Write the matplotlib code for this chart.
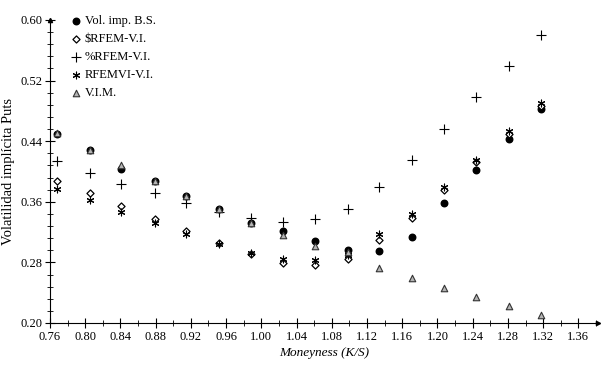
import numpy as np
import matplotlib
matplotlib.use("Agg")
import matplotlib.pyplot as plt
from matplotlib.ticker import FormatStrFormatter

# moneyness (K/S) of each strike column
moneyness = [0.768, 0.805, 0.841, 0.879, 0.914, 0.952, 0.988, 1.025,
             1.061, 1.098, 1.134, 1.171, 1.207, 1.244, 1.281, 1.318]

vol_bs = [0.450, 0.428, 0.403, 0.387, 0.367, 0.350, 0.332, 0.321,
          0.308, 0.297, 0.295, 0.313, 0.358, 0.402, 0.443, 0.483]
rfem_usd = [0.387, 0.371, 0.354, 0.337, 0.322, 0.305, 0.291, 0.279,
            0.277, 0.285, 0.309, 0.339, 0.375, 0.412, 0.450, 0.487]
rfem_pct = [0.414, 0.398, 0.384, 0.371, 0.358, 0.346, 0.338, 0.333,
            0.337, 0.351, 0.379, 0.415, 0.456, 0.498, 0.539, 0.580]
rfemvi = [0.377, 0.363, 0.347, 0.332, 0.318, 0.304, 0.292, 0.284,
          0.283, 0.290, 0.317, 0.344, 0.380, 0.415, 0.453, 0.491]
vim = [0.451, 0.428, 0.409, 0.388, 0.368, 0.350, 0.332, 0.316,
       0.301, 0.294, 0.272, 0.259, 0.246, 0.234, 0.222, 0.211]

labels = ["Vol. imp. B.S.", "$RFEM-V.I.", "%RFEM-V.I.", "RFEMVI-V.I.", "V.I.M."]

x_major = np.arange(0.76, 1.37, 0.04)
x_minor = np.arange(0.76, 1.381, 0.02)
y_major = np.arange(0.20, 0.61, 0.08)
y_minor = np.arange(0.20, 0.601, 0.016)

plt.rcParams["font.family"] = ["Liberation Serif", "DejaVu Serif"]

fig = plt.figure(figsize=(6.02, 3.68), dpi=100)
ax = fig.add_axes([0.083, 0.1223, 0.91, 0.8234])

ax.scatter(moneyness, vol_bs, marker="o", s=22, color="black", label=labels[0], zorder=3)
ax.scatter(moneyness, rfem_usd, marker="D", s=13, facecolor="white", edgecolor="black",
           linewidth=0.9, label=labels[1], zorder=3)
ax.scatter(moneyness, rfem_pct, marker="+", s=45, color="black", linewidth=0.8,
           label=labels[2], zorder=3)
ax.scatter(moneyness, rfemvi, marker=(6, 2, 0), s=24, color="black", linewidth=0.8,
           label=labels[3], zorder=4)
ax.scatter(moneyness, vim, marker="^", s=22, facecolor="#b4b4b4", edgecolor="#333333",
           linewidth=0.8, label=labels[4], zorder=4)

ax.set_xlim(0.76, 1.382)
ax.set_ylim(0.20, 0.60)
ax.set_xticks(x_major)
ax.set_xticks(x_minor, minor=True)
ax.set_yticks(y_major)
ax.set_yticks(y_minor, minor=True)
ax.xaxis.set_major_formatter(FormatStrFormatter("%.2f"))
ax.yaxis.set_major_formatter(FormatStrFormatter("%.2f"))

for side in ["top", "right"]:
    ax.spines[side].set_visible(False)
for side in ["left", "bottom"]:
    ax.spines[side].set_linewidth(0.8)

ax.tick_params(which="major", direction="inout", length=7, width=0.8, labelsize=9, pad=2)
ax.tick_params(which="minor", direction="inout", length=4, width=0.6)

# arrow heads at the axis ends
ax.plot(1, 0, marker=">", ms=3, color="black", transform=ax.transAxes, clip_on=False)
ax.plot(0, 1, marker="^", ms=3, color="black", transform=ax.transAxes, clip_on=False)

ax.set_xlabel("Moneyness (K/S)", fontsize=9.5, style="italic", labelpad=3)
ax.set_ylabel("Volatilidad implícita Puts", fontsize=10.5, labelpad=4)

ax.legend(loc="upper left", bbox_to_anchor=(0.025, 1.045), frameon=False, fontsize=9,
          handlelength=0.6, handletextpad=0.4, labelspacing=0.48, borderpad=0.2,
          scatterpoints=1)

fig.savefig("out.png", dpi=100)
